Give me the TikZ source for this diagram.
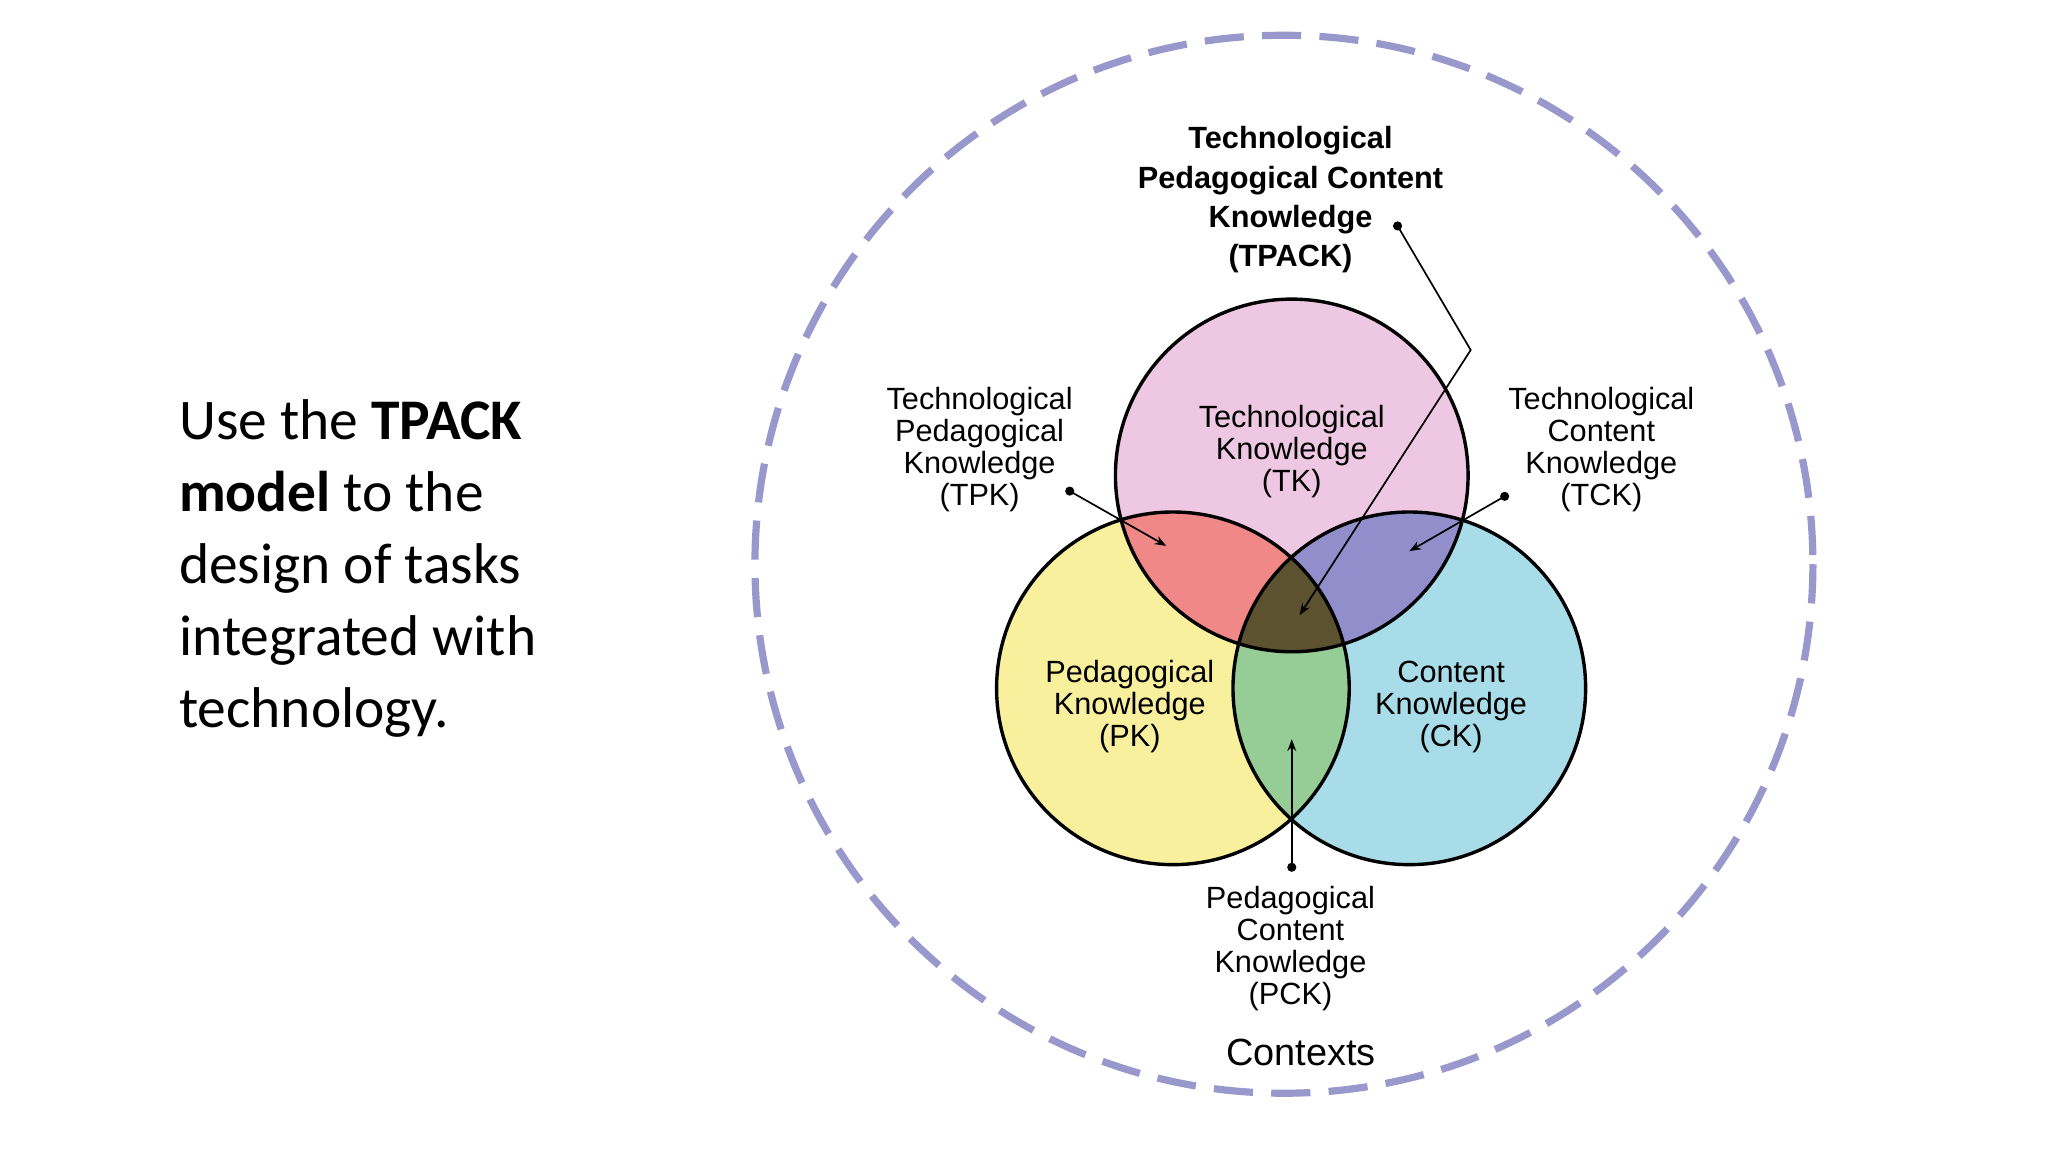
\documentclass[tikz,border=0pt]{standalone}
\usepackage{fontspec}
\usetikzlibrary{arrows.meta}
\setmainfont{Liberation Sans}
\newfontfamily\slidefont{Carlito}
\begin{document}
\begin{tikzpicture}[x=1pt,y=-1pt,
  lab/.style={align=center,font=\fontsize{23.5}{24.5}\selectfont,inner sep=0},
  ptr/.style={line width=1.3pt,-{Stealth[length=9pt]}},
  dotc/.style={circle,fill=black,inner sep=0,minimum size=7pt}]
\useasboundingbox (0,0) rectangle (1568,882);
\fill[white] (0,0) rectangle (1568,882);
\draw[color=blue!35!gray!60!white,line width=5.5pt,dash pattern=on 30pt off 14pt] (983,432) circle (405);
\def\TK{(989,364) circle (135)}
\def\PK{(898,527) circle (135)}
\def\CK{(1079,527) circle (135)}
\fill[fill={rgb,255:red,238;green,200;blue,226}] \TK;
\fill[fill={rgb,255:red,248;green,240;blue,156}] \PK;
\fill[fill={rgb,255:red,168;green,220;blue,232}] \CK;
\begin{scope}\clip \TK; \fill[fill={rgb,255:red,240;green,136;blue,136}] \PK;\end{scope}
\begin{scope}\clip \TK; \fill[fill={rgb,255:red,146;green,142;blue,204}] \CK;\end{scope}
\begin{scope}\clip \PK; \fill[fill={rgb,255:red,150;green,204;blue,150}] \CK;\end{scope}
\begin{scope}\clip \TK; \clip \PK; \fill[fill={rgb,255:red,92;green,82;blue,48}] \CK;\end{scope}
\draw[line width=2.6pt] \TK \PK \CK;
\node[lab] (tk) at (989,346) {Technological\\Knowledge\\(TK)};
\node[lab] (pk) at (865,541) {Pedagogical\\Knowledge\\(PK)};
\node[lab] (ck) at (1111,541) {Content\\Knowledge\\(CK)};
\node[lab,font=\bfseries\fontsize{23.5}{30}\selectfont] (tpack) at (988,153) {Technological\\Pedagogical Content\\Knowledge\\(TPACK)};
\node[lab] (tpk) at (750,344) {Technological\\Pedagogical\\Knowledge\\(TPK)};
\node[lab] (tck) at (1226,344) {Technological\\Content\\Knowledge\\(TCK)};
\node[lab] (pck) at (988,726) {Pedagogical\\Content\\Knowledge\\(PCK)};
\node[lab,font=\fontsize{29}{30}\selectfont] (ctx) at (996,806) {Contexts};
\node[dotc] (d1) at (1070,173) {};
\coordinate (b1) at (1126,268);
\coordinate (e1) at (995,471);
\draw[ptr] (d1.center) -- (b1) -- (e1);
\node[dotc] (d2) at (819,376) {};
\coordinate (e2) at (893,418);
\draw[ptr] (d2.center) -- (e2);
\node[dotc] (d3) at (1152,380) {};
\coordinate (e3) at (1079,422);
\draw[ptr] (d3.center) -- (e3);
\node[dotc] (d4) at (989,664) {};
\coordinate (e4) at (989,566);
\draw[ptr] (d4.center) -- (e4);
\node[anchor=north west,align=left,inner sep=0,font=\slidefont\fontsize{44}{55}\selectfont] (txt) at (137,306)
 {Use the \textbf{TPACK}\\\textbf{model} to the\\design of tasks\\integrated with\\technology.};
\end{tikzpicture}
\end{document}
